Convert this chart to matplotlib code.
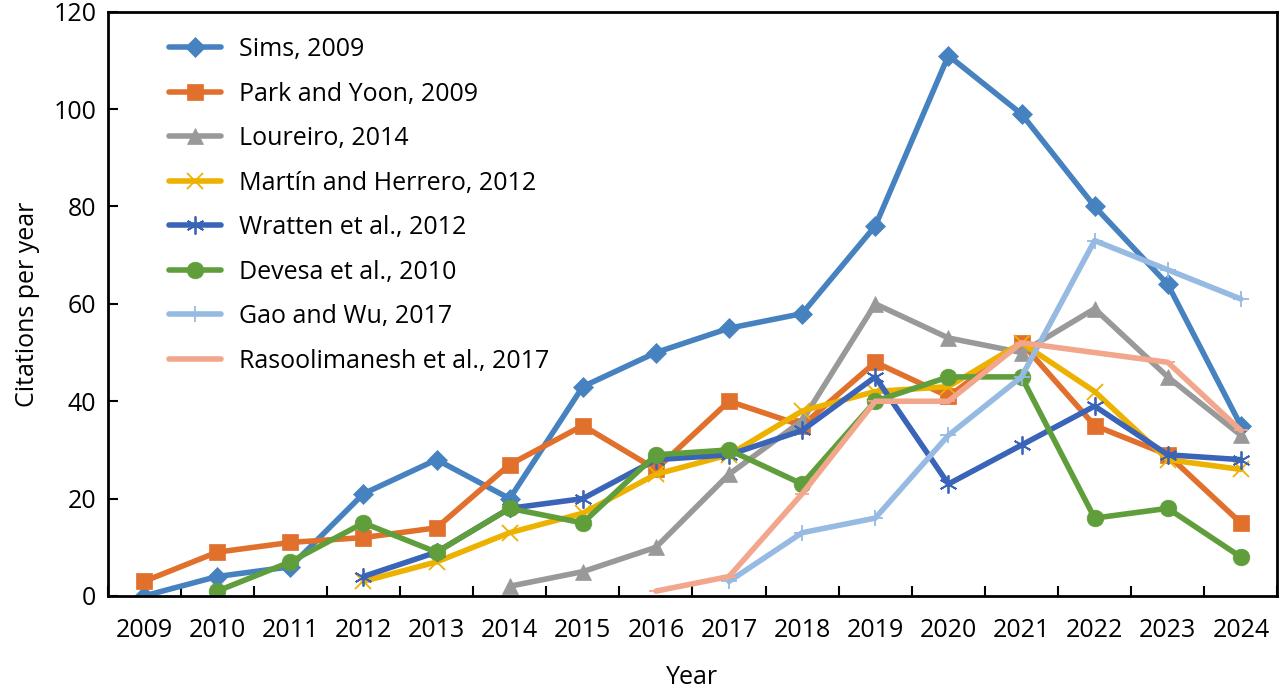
import matplotlib
matplotlib.use("Agg")
import matplotlib.pyplot as plt
import numpy as np

plt.rcParams['font.family'] = ['Open Sans', 'DejaVu Sans']

years = ["2009", "2010", "2011", "2012", "2013", "2014", "2015", "2016",
         "2017", "2018", "2019", "2020", "2021", "2022", "2023", "2024"]

N = None
sims = [0, 4, 6, 21, 28, 20, 43, 50, 55, 58, 76, 111, 99, 80, 64, 35]
park = [3, 9, 11, 12, 14, 27, 35, 26, 40, 35, 48, 41, 52, 35, 29, 15]
loureiro = [N, N, N, N, N, 2, 5, 10, 25, 36, 60, 53, 50, 59, 45, 33]
martin = [N, N, N, 3, 7, 13, 17, 25, 29, 38, 42, 43, 52, 42, 28, 26]
wratten = [N, N, N, 4, 9, 18, 20, 28, 29, 34, 45, 23, 31, 39, 29, 28]
devesa = [N, 1, 7, 15, 9, 18, 15, 29, 30, 23, 40, 45, 45, 16, 18, 8]
gao = [N, N, N, N, N, N, N, N, 3, 13, 16, 33, 45, 73, 67, 61]
rasool = [N, N, N, N, N, N, N, 1, 4, 21, 40, 40, 52, 50, 48, 34]

series = [
    ("Sims, 2009", sims, "#4682C0", "D", 10),
    ("Park and Yoon, 2009", park, "#E0702C", "s", 11),
    ("Loureiro, 2014", loureiro, "#999999", "^", 11),
    ("Martín and Herrero, 2012", martin, "#EDB100", "x", 11),
    ("Wratten et al., 2012", wratten, "#3A64B8", (6, 2, 0), 13),
    ("Devesa et al., 2010", devesa, "#5F9E3B", "o", 12),
    ("Gao and Wu, 2017", gao, "#96BAE2", "+", 12),
    ("Rasoolimanesh et al., 2017", rasool, "#F2A68C", "_", 10),
]

fig = plt.figure(figsize=(12.8, 6.91), dpi=100)
ax = fig.add_axes([0.084, 0.1375, 0.914, 0.8455])

x = np.arange(len(years))
for name, vals, col, mk, ms in series:
    y = np.array([np.nan if v is None else v for v in vals], dtype=float)
    thin = mk in ("x", "+", "_", (6, 2, 0))
    ax.plot(x, y, color=col, lw=4.0, marker=mk, markersize=ms,
            markeredgewidth=1.3 if thin else 0.5, markeredgecolor=col,
            markerfacecolor=col, label=name, solid_capstyle='round')

ax.set_xlim(-0.5, 15.5)
ax.set_ylim(0, 120)
ax.set_yticks(np.arange(0, 121, 20))
ax.set_xticks(x)
ax.set_xticklabels(years)
ax.set_xticks(np.arange(-0.5, 15.6, 1), minor=True)
ax.tick_params(axis='x', which='major', length=0, pad=16, labelsize=18)
ax.tick_params(axis='x', which='minor', direction='in', length=7, width=1.5)
ax.tick_params(axis='y', direction='in', length=7, width=1.5, labelsize=18, pad=8)
for s in ax.spines.values():
    s.set_linewidth(2)
ax.set_xlabel("Year", fontsize=18, labelpad=16)
ax.set_ylabel("Citations per year", fontsize=18, labelpad=10)

leg = ax.legend(loc='upper left', bbox_to_anchor=(0.033, 0.995), frameon=False,
                fontsize=18, handlelength=2.1, labelspacing=0.78, handletextpad=0.7)

fig.savefig("out.png", dpi=100)
